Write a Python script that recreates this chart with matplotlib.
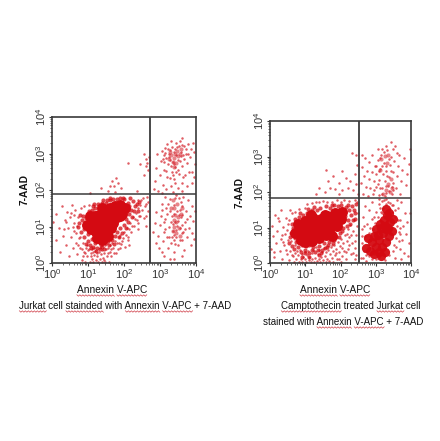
import numpy as np
import matplotlib
matplotlib.use("Agg")
import matplotlib.pyplot as plt
from matplotlib.lines import Line2D
from matplotlib.ticker import LogLocator, NullFormatter

plt.rcParams['font.family'] = ['Liberation Sans', 'DejaVu Sans']
plt.rcParams['mathtext.default'] = 'regular'

# All values are log10(fluorescence): (Annexin V-APC, 7-AAD)
left_core = [(0.98,1.05),(1.08,0.92),(1.12,1.2),(1.22,0.85),(1.25,1.05),(1.3,1.32),(1.4,0.8),(1.42,1.0),(1.45,1.2),
             (1.48,1.42),(1.55,1.05),(1.6,1.25),(1.6,1.5),(1.7,1.1),(1.7,1.35),(1.75,1.55),(1.8,1.25),(1.85,1.45),
             (1.9,1.6),(1.95,1.35),(2.02,1.5),(1.65,0.95),(1.38,1.5),(1.25,0.68),(1.05,1.3),(1.4,0.62),
             (1.15,1.05),(1.32,0.95),(1.35,1.15),(1.5,0.9),(1.52,1.3),(1.62,1.4),(1.78,1.42),(1.88,1.3),(1.2,1.3),(1.55,0.75)]
left_halo = [(0.75,1.1),(0.8,0.85),(0.85,1.3),(0.9,0.7),(0.92,1.0),(0.95,1.22),(1.0,0.6),(1.0,0.8),(1.0,1.35),(1.05,0.5),
             (1.1,0.65),(1.1,1.45),(1.15,0.45),(1.2,0.55),(1.2,1.5),(1.25,0.4),(1.3,1.55),(1.35,0.5),(1.4,0.45),(1.4,1.65),
             (1.5,0.55),(1.5,1.65),(1.55,0.6),(1.6,1.72),(1.65,0.7),(1.7,1.75),(1.75,0.75),(1.8,0.85),(1.8,1.75),(1.9,0.95),
             (1.9,1.78),(2.0,1.05),(2.0,1.75),(2.05,1.2),(2.1,1.65),(2.15,1.35),(2.15,1.55),(2.2,1.45),(2.25,1.7),(2.3,1.55),
             (0.82,1.18),(0.88,0.92),(0.95,0.52),(1.02,1.42),(1.08,0.42),(1.15,1.55),(1.22,0.32),(1.28,1.62),(1.32,0.38),(1.45,0.38),
             (1.52,1.72),(1.58,0.48),(1.68,0.62),(1.72,0.52),(1.85,0.72),(1.95,0.82),(1.98,1.78),(2.05,0.95),(2.12,1.12),(2.22,1.25),
             (2.28,1.42),(2.35,1.62),(2.4,1.42),(2.42,1.68),(2.18,1.78),(1.62,1.78),(1.42,1.72),(1.18,1.62),(0.72,0.98),(0.78,1.32)]
left_sparse = [(0.02,1.12),(0.1,0.62),(0.12,1.35),(0.2,0.95),(0.22,0.3),(0.28,1.55),(0.3,0.75),(0.35,1.18),(0.38,0.5),(0.42,1.4),
               (0.45,0.95),(0.48,0.18),(0.5,1.25),(0.52,0.7),(0.55,1.6),(0.58,0.4),(0.6,1.1),(0.62,0.88),(0.65,1.45),(0.68,0.55),
               (0.7,0.25),(0.72,1.25),(0.75,0.68),(0.78,0.42),(0.8,1.5),(0.82,0.08),(0.85,0.55),(0.88,0.3),(0.9,1.55),(0.92,0.02),
               (0.95,0.42),(0.98,0.18),(1.0,0.35),(1.02,1.6),(1.05,0.02),(1.08,0.28),(1.1,0.12),(1.12,0.38),(1.15,0.02),(1.18,0.22),
               (1.2,0.32),(1.22,0.08),(1.25,0.18),(1.28,0.02),(1.3,0.3),(1.32,0.12),(1.35,0.25),(1.38,0.02),(1.4,0.35),(1.42,0.15),
               (1.45,0.28),(1.48,0.02),(1.5,0.38),(1.52,0.18),(1.55,0.42),(1.58,0.02),(1.6,0.3),(1.62,0.5),(1.65,0.2),(1.68,0.55),
               (1.7,0.4),(1.75,0.6),(1.78,0.28),(1.8,0.55),(1.85,0.7),(1.88,0.42),(1.9,0.78),(1.95,0.6),(2.0,0.85),(2.02,0.45),
               (2.08,0.95),(2.12,0.7),(2.18,1.1),(2.2,0.85),(2.25,1.25),(2.28,1.02),(2.32,1.38),(2.35,1.18),(2.38,1.5),(2.4,1.72),
               (2.42,1.3),(2.45,1.6),(2.5,1.45),(2.52,1.78),(2.55,1.22),(2.6,1.62),(2.62,1.02),(2.65,1.8),(2.68,1.42),(2.38,0.92),
               (1.05,1.92),(1.35,2.05),(1.55,1.98),(1.6,2.12),(1.68,2.25),(1.72,2.1),(1.78,2.32),(1.82,2.2),(1.75,1.95),(1.92,2.05),
               (2.35,1.98),(2.55,2.4),(2.6,2.65),(2.62,2.85),(2.65,2.75),(2.68,2.55),(2.7,2.9),(2.55,3.0),(2.1,2.75),(2.45,2.72),
               (0.62,1.32),(0.7,1.02),(0.68,0.82),(0.58,1.0),(0.52,1.38),(0.4,1.12),(0.32,0.92),(0.72,0.48),(0.78,0.72),(0.82,0.38),
               (0.85,0.18),(0.92,0.28),(0.98,0.48),(1.04,0.38),(1.08,0.18),(1.14,0.3),(1.18,0.42),(1.26,0.28),(1.34,0.4),(1.44,0.08),
               (1.48,0.48),(1.56,0.28),(1.64,0.38),(1.72,0.28),(1.82,0.38),(1.92,0.52),(1.98,0.68),(2.06,0.78),(2.14,0.92),(2.3,1.2),
               (2.38,1.1),(2.45,1.3),(2.48,1.72),(2.58,1.55),(2.62,1.3),(2.66,1.68),(2.22,1.02),(2.1,0.62),(1.85,0.55),(2.15,0.5)]
left_upper = [(2.85,2.25),(2.9,2.6),(2.92,3.0),(2.95,1.98),(3.0,2.4),(3.02,2.8),(3.05,3.08),(3.08,2.15),(3.1,2.55),(3.12,2.95),
              (3.15,3.15),(3.18,2.02),(3.2,2.35),(3.22,2.7),(3.25,2.9),(3.28,3.1),(3.3,2.1),(3.32,2.5),(3.35,2.78),(3.38,3.05),
              (3.4,2.3),(3.42,2.62),(3.45,2.95),(3.48,3.18),(3.5,2.05),(3.52,2.45),(3.55,2.8),(3.58,3.05),(3.6,2.2),(3.62,2.65),
              (3.65,2.95),(3.68,3.2),(3.7,2.4),(3.72,3.0),(3.75,2.75),(3.78,3.25),(3.82,2.9),(3.85,3.12),(3.88,2.5),(3.92,3.3),
              (3.95,3.05),(3.98,2.7),(3.3,3.35),(3.45,3.28),(3.55,3.35),(3.6,3.42),(3.2,3.25),(3.35,1.95),(3.05,1.92),(2.82,2.02),
              (3.42,2.2),(3.6,1.98),(3.75,2.1),(3.9,2.2),(3.18,2.52),(3.3,2.65),(3.5,2.55),(3.65,2.35),(3.8,2.5),(3.95,2.35),
              (3.12,2.78),(3.18,2.88),(3.25,2.98),(3.28,2.82),(3.32,3.18),(3.38,2.72),(3.42,3.12),(3.5,2.82),(3.52,3.2),(3.58,2.92),
              (3.62,3.22),(3.68,2.85),(3.72,3.12),(3.78,2.98),(3.22,3.12),(3.15,3.02),(3.08,2.85),(3.35,2.4),(3.45,2.48),(3.28,2.32)]
left_upper_dense = [(3.3,2.95),(3.38,2.88),(3.42,3.0),(3.48,3.08),(3.35,2.78),(3.5,2.92),(3.58,3.12),(3.45,2.75),(3.28,3.05),(3.4,2.62),(3.25,2.85),(3.55,3.0)]
left_lower = [(2.8,0.85),(2.85,1.1),(2.88,0.55),(2.9,1.4),(2.95,0.75),(2.98,0.4),(3.0,1.05),(3.02,1.3),(3.05,1.62),(3.08,0.6),
              (3.1,0.85),(3.12,0.2),(3.15,1.2),(3.18,1.5),(3.2,0.7),(3.22,0.4),(3.25,1.0),(3.28,1.75),(3.3,0.55),(3.32,1.3),
              (3.35,0.88),(3.38,1.6),(3.4,0.3),(3.42,1.12),(3.45,0.7),(3.48,1.42),(3.5,0.5),(3.52,1.78),(3.55,0.95),(3.58,1.25),
              (3.6,0.62),(3.62,1.55),(3.65,0.85),(3.68,0.35),(3.7,1.12),(3.72,1.42),(3.75,0.7),(3.78,1.72),(3.8,0.95),(3.82,1.3),
              (3.85,0.5),(3.88,1.55),(3.9,0.82),(3.92,1.15),(3.95,0.65),(3.97,1.42),(3.28,0.12),(3.4,0.12),(3.6,0.18),(3.05,0.3),
              (3.15,1.82),(3.45,1.85),(3.65,1.8),(3.3,1.12),(3.55,1.45),(3.42,0.52),(3.2,1.35),(3.62,1.05),(3.5,1.15),(3.38,0.78),
              (3.22,1.62),(3.28,1.42),(3.32,0.72),(3.35,1.08),(3.38,1.35),(3.4,0.62),(3.42,1.78),(3.45,0.9),(3.48,1.02),(3.52,1.32),
              (3.55,0.62),(3.58,1.68),(3.6,0.82),(3.62,1.32),(3.7,0.92),(3.74,1.2),(3.25,0.72),(3.15,0.92),(3.1,1.12),(3.05,1.45)]
left_lower_dense = [(3.35,1.72),(3.4,1.5),(3.48,1.62),(3.42,1.32),(3.5,1.25),(3.45,1.12),(3.4,0.98),(3.52,0.95),(3.45,0.82),(3.38,1.18),(3.58,1.35),(3.55,0.75),(3.3,1.5),(3.62,1.5),(3.35,0.88)]

right_core = [(0.72,0.85),(0.8,1.1),(0.88,0.65),(0.95,0.9),(1.0,1.18),(1.1,0.72),(1.12,1.0),(1.22,1.28),(1.28,0.85),(1.3,1.1),
              (1.4,0.7),(1.4,0.95),(1.45,1.25),(1.5,1.05),(1.55,1.35),(1.6,0.8),(1.6,1.15),(1.7,1.0),(1.72,1.3),(1.8,1.15),
              (1.85,1.4),(1.9,1.05),(2.0,1.25),(2.05,1.45),(1.75,0.75),(1.15,1.35),(1.0,0.58),
              (0.85,0.98),(1.05,0.85),(1.2,1.12),(1.2,0.62),(1.35,1.0),(1.5,0.88),(1.62,1.32),(1.75,1.15),(1.92,1.28)]
right_halo = [(0.55,0.55),(0.6,0.85),(0.62,1.1),(0.68,0.4),(0.7,1.25),(0.72,0.7),(0.78,0.98),(0.8,0.45),(0.82,1.3),(0.88,0.3),
              (0.92,0.52),(0.95,1.35),(1.0,0.38),(1.05,1.42),(1.1,0.5),(1.12,0.28),(1.18,1.5),(1.22,0.45),(1.28,0.3),(1.32,1.5),
              (1.38,0.48),(1.42,1.55),(1.48,0.38),(1.52,0.55),(1.58,1.6),(1.62,0.45),(1.68,0.6),(1.7,1.55),(1.78,0.55),(1.82,1.62),
              (1.88,0.72),(1.92,1.6),(1.98,0.85),(2.02,1.62),(2.08,1.0),(2.12,1.32),(2.15,1.58),(2.2,1.2),(2.25,1.48),(2.3,1.35),
              (2.32,1.6),(2.38,1.5),(2.42,1.25),(2.45,1.65),(0.58,0.72),(0.62,0.48),(0.65,0.98),(0.75,0.58),(0.85,1.42),(0.98,0.28),
              (1.02,0.48),(1.08,1.52),(1.18,0.38),(1.25,1.58),(1.35,0.38),(1.45,0.28),(1.55,0.42),(1.65,0.52),(1.75,1.62),(1.82,0.65),
              (1.95,0.72),(2.05,0.9),(2.18,1.05),(2.22,1.62),(2.35,1.2),(2.4,1.42),(2.28,1.1),(1.12,0.18),(0.92,0.18),(1.38,0.22)]
right_sparse = [(0.02,0.4),(0.05,1.05),(0.08,0.75),(0.12,0.18),(0.15,1.35),(0.18,0.55),(0.2,0.9),(0.25,1.18),(0.28,0.35),(0.3,0.68),
                (0.32,1.48),(0.35,0.12),(0.38,1.02),(0.4,0.5),(0.42,0.82),(0.45,1.28),(0.48,0.25),(0.5,0.65),(0.52,1.1),(0.55,0.08),
                (0.58,0.35),(0.6,0.62),(0.62,1.4),(0.65,0.2),(0.68,0.02),(0.7,0.5),(0.72,0.28),(0.75,0.1),(0.78,0.62),(0.8,0.22),
                (0.82,0.02),(0.85,0.38),(0.88,0.12),(0.9,0.25),(0.92,0.02),(0.95,0.18),(0.98,0.3),(1.0,0.1),(1.02,0.02),(1.05,0.22),
                (1.08,0.35),(1.1,0.08),(1.12,0.18),(1.15,0.02),(1.18,0.28),(1.2,0.12),(1.22,0.38),(1.25,0.02),(1.28,0.15),(1.3,0.45),
                (1.32,0.05),(1.35,0.25),(1.38,0.12),(1.4,0.38),(1.42,0.02),(1.45,0.18),(1.48,0.3),(1.5,0.08),(1.52,0.42),(1.55,0.2),
                (1.58,0.02),(1.6,0.3),(1.62,0.12),(1.65,0.38),(1.68,0.05),(1.7,0.25),(1.72,0.45),(1.75,0.15),(1.78,0.35),(1.8,0.02),
                (1.82,0.5),(1.85,0.22),(1.88,0.4),(1.9,0.1),(1.92,0.58),(1.95,0.3),(1.98,0.48),(2.0,0.02),(2.02,0.68),(2.05,0.2),
                (2.08,0.55),(2.1,0.35),(2.12,0.8),(2.15,0.12),(2.18,0.62),(2.2,0.95),(2.22,0.4),(2.25,0.72),(2.28,1.08),(2.3,0.25),
                (2.32,0.55),(2.35,0.9),(2.38,1.2),(2.4,0.1),(2.42,0.42),(2.45,0.78),(2.48,1.05),(2.5,1.42),(2.48,1.72),(2.4,1.78),
                (2.25,1.75),(2.1,1.78),(1.3,1.72),(1.5,1.75),(1.9,1.78),(1.95,1.95),(1.3,1.95),(1.4,2.1),(1.55,2.0),(1.65,2.3),
                (1.7,2.12),(1.8,2.45),(1.85,2.08),(1.95,2.25),(2.05,2.6),(2.05,2.05),(2.15,2.4),(2.2,2.12),(2.28,2.32),(2.35,2.05),
                (2.4,2.52),(2.45,2.22),(2.45,3.05),(2.32,3.1),(1.58,2.62),(2.48,2.75),(2.5,1.95),
                (0.1,0.3),(0.22,1.28),(0.35,0.78),(0.44,0.38),(0.55,1.22),(0.62,0.22),(0.48,0.92),(0.7,1.45),(0.58,1.5),(0.38,0.6),
                (0.82,1.52),(0.78,0.35),(0.98,1.55),(1.05,1.65),(1.2,1.68),(1.4,1.72),(1.62,1.72),(1.75,1.72),(2.0,1.72),(2.25,0.5),
                (2.15,0.3),(1.95,0.12),(2.35,0.28),(2.42,0.62),(2.45,0.22),(2.3,0.78),(2.18,0.82),(2.05,0.42),(1.88,0.28),(1.75,0.5)]
right_upper = [(2.58,2.25),(2.6,2.7),(2.62,3.05),(2.65,1.95),(2.68,2.45),(2.7,2.95),(2.72,2.15),(2.75,2.6),(2.78,1.9),(2.8,2.38),
               (2.82,2.85),(2.85,2.1),(2.88,2.55),(2.9,3.05),(2.92,1.95),(2.95,2.3),(2.98,2.72),(3.0,2.15),(3.02,2.5),(3.05,2.9),
               (3.08,1.92),(3.1,2.35),(3.12,2.65),(3.15,3.05),(3.18,2.12),(3.2,2.5),(3.22,2.82),(3.25,2.3),(3.28,1.98),(3.3,2.6),
               (3.32,3.18),(3.35,2.18),(3.38,2.42),(3.4,2.75),(3.42,3.0),(3.45,1.95),(3.48,2.25),(3.5,2.55),(3.52,2.88),(3.55,3.3),
               (3.58,2.1),(3.6,2.45),(3.62,2.72),(3.65,3.05),(3.68,1.95),(3.72,2.3),(3.75,2.62),(3.8,2.95),(3.85,2.2),(3.9,2.5),
               (3.95,2.8),(3.98,3.2),(3.3,3.3),(3.42,3.42),(3.5,3.2),(3.6,3.1),(3.18,3.2),(3.05,3.2),(3.25,1.9),(3.5,2.05),
               (3.02,2.72),(3.08,2.58),(3.12,2.95),(3.18,2.72),(3.22,3.12),(3.28,2.72),(3.32,2.45),(3.38,2.92),(3.42,2.6),(3.45,2.15),
               (3.12,2.12),(3.18,1.95),(3.28,2.18),(3.38,2.02),(2.95,2.05),(3.05,2.22)]
right_upper_dense = [(3.25,3.02),(3.35,3.05),(3.15,2.92),(3.32,2.82),(3.42,2.38),(3.35,2.22),(3.45,2.1),(3.28,2.05),(3.12,2.62),(3.4,2.0),(3.2,1.95)]
right_blob = [(2.72,0.42),(2.78,0.7),(2.85,0.35),(2.88,0.58),(2.95,0.25),(2.95,0.75),(3.0,0.45),(3.02,0.95),(3.08,0.3),(3.1,0.65),(3.12,1.1),
              (3.18,0.45),(3.2,0.85),(3.22,1.2),(3.28,0.6),(3.3,0.95),(3.32,1.35),(3.38,0.75),(3.4,1.15),(3.45,0.9),(3.48,1.25),(3.3,1.52),(3.15,0.2),(3.25,0.32),
              (3.05,0.8),(3.15,0.98),(3.25,1.05),(3.35,1.0),(3.38,1.42)]
right_lower = [(2.58,0.15),(2.6,0.55),(2.62,0.95),(2.65,1.3),(2.68,0.35),(2.7,0.75),(2.72,0.05),(2.75,1.1),(2.78,0.5),(2.8,0.2),
               (2.8,1.5),(2.82,0.85),(2.85,0.65),(2.88,1.25),(2.9,0.1),(2.92,0.95),(2.95,0.25),(2.98,1.12),(3.0,1.45),(3.02,0.1),
               (3.05,1.3),(3.08,1.65),(3.1,0.18),(3.12,1.22),(3.15,1.45),(3.18,1.75),(3.2,1.55),(3.25,0.08),(3.28,1.65),(3.3,1.8),
               (3.35,1.5),(3.38,0.22),(3.4,1.7),(3.45,1.45),(3.48,0.35),(3.5,1.62),(3.52,0.52),(3.55,1.3),(3.58,0.7),(3.6,1.05),
               (3.62,1.55),(3.65,0.88),(3.68,0.4),(3.7,1.22),(3.72,1.72),(3.75,0.65),(3.78,1.05),(3.8,0.28),(3.82,1.42),(3.85,0.82),
               (3.9,1.15),(3.95,0.55),(3.98,1.4),(3.92,0.2),(3.72,0.1),(3.55,0.15),(3.6,1.78),(2.7,1.6),(2.9,1.72),(3.1,1.8),
               (3.22,1.78),(3.35,1.72),(3.45,1.62),(3.12,1.55),(3.18,1.4),(3.28,1.42),(3.4,1.52),(3.55,1.5),(3.62,1.22),(3.68,1.0),
               (2.6,0.75),(2.65,0.15),(2.68,1.05),(2.72,0.22),(2.85,1.0),(2.95,1.3),(3.05,1.08),(3.58,0.45),(3.65,0.62),(3.7,0.82)]

x_title = "Annexin V-APC"
y_title = "7-AAD"
left_caption = "Jurkat cell stainded with Annexin V-APC + 7-AAD"
right_caption_1 = "Camptothecin treated Jurkat cell"
right_caption_2 = "stained with Annexin V-APC + 7-AAD"

W, H = 440, 441
fig = plt.figure(figsize=(W / 100, H / 100), dpi=100, facecolor="white")
RED = "#d40a12"
SPOT = "#d8343c"
FRAME = "#3a3a3a"


def points(pairs):
    a = np.array(pairs)
    return 10 ** a[:, 0], 10 ** a[:, 1]


def panel(box, gate_x, gate_y, core, halo, sparse_sets, dense_sets):
    ax = fig.add_axes([box[0] / W, 1 - box[3] / H, (box[2] - box[0]) / W, (box[3] - box[1]) / H])
    ax.set_xscale("log")
    ax.set_yscale("log")
    ax.set_xlim(1, 1e4)
    ax.set_ylim(1, 1e4)
    for s in sparse_sets:
        ax.scatter(*points(s), s=3.2, color=SPOT, alpha=0.8, lw=0)
    for s in dense_sets:
        ax.scatter(*points(s), s=9, color=SPOT, alpha=0.6, lw=0)
    ax.scatter(*points(halo), s=9, color=RED, alpha=0.75, lw=0)
    ax.scatter(*points(core), s=62, color=RED, lw=0)
    ax.axvline(gate_x, color=FRAME, lw=1.3, zorder=5)
    ax.axhline(gate_y, color=FRAME, lw=1.1, zorder=5)
    for sp in ax.spines.values():
        sp.set_linewidth(1.2)
        sp.set_color(FRAME)
    ax.xaxis.set_major_locator(LogLocator(10, numticks=6))
    ax.yaxis.set_major_locator(LogLocator(10, numticks=6))
    for axis in (ax.xaxis, ax.yaxis):
        axis.set_minor_locator(LogLocator(10, subs=np.arange(2, 10), numticks=6))
        axis.set_minor_formatter(NullFormatter())
    ax.tick_params(which="major", length=2.5, width=0.8, labelsize=8, pad=0.5, colors="#333333")
    ax.tick_params(which="minor", length=1.5, width=0.5, colors="#333333")
    for t in ax.get_yticklabels():
        t.set_rotation(90)
        t.set_va("center")
    return ax


panel((52, 117, 196, 263), 10 ** 2.72, 10 ** 1.89, left_core, left_halo,
      [left_sparse, left_upper, left_lower], [left_upper_dense, left_lower_dense])
ax_right = panel((270, 121, 411, 263), 10 ** 2.52, 10 ** 1.83, right_core, right_halo,
                 [right_sparse, right_upper, right_lower], [right_upper_dense])
ax_right.scatter(*points(right_blob), s=44, color=RED, alpha=0.95, lw=0, zorder=1.5)


def label(x, y, s, wavy=(), **kw):
    t = fig.text(x / W, 1 - y / H, s, ha=kw.pop("ha", "center"), va="center",
                 color="#111111", fontsize=kw.pop("fontsize", 7.05), **kw)
    if wavy:
        fig.canvas.draw()
        r = fig.canvas.get_renderer()
        box = t.get_window_extent(r)
        fp = t.get_fontproperties()
        k = box.width / r.get_text_width_height_descent(s, fp, False)[0]
        for word in wavy:
            i = s.index(word)
            x0 = box.x0 + (k * r.get_text_width_height_descent(s[:i], fp, False)[0] if i else 0)
            x1 = box.x0 + k * r.get_text_width_height_descent(s[:i + len(word)], fp, False)[0]
            xs = np.arange(x0, x1 + 1, 1.5)
            ys = box.y0 - 0.5 + 0.7 * (-1.0) ** np.arange(len(xs))
            fig.add_artist(Line2D(xs / W, ys / H, color="#d0404a", lw=0.5, transform=fig.transFigure))
    return t


label(112, 290, x_title, wavy=("Annexin", "V-APC"), fontsize=7.3)
label(335, 290, x_title, wavy=("Annexin", "V-APC"), fontsize=7.3)
label(25, 190, y_title, rotation=90, fontweight="bold", fontsize=7.3)
label(240, 192, y_title, rotation=90, fontweight="bold", fontsize=7.3)
label(125.5, 306, left_caption, wavy=("Jurkat", "stainded", "Annexin", "V-APC"))
label(351, 306, right_caption_1, wavy=("Camptothecin", "Jurkat"))
label(343, 322, right_caption_2, wavy=("Annexin", "V-APC"))

fig.savefig("out.png", dpi=100)
